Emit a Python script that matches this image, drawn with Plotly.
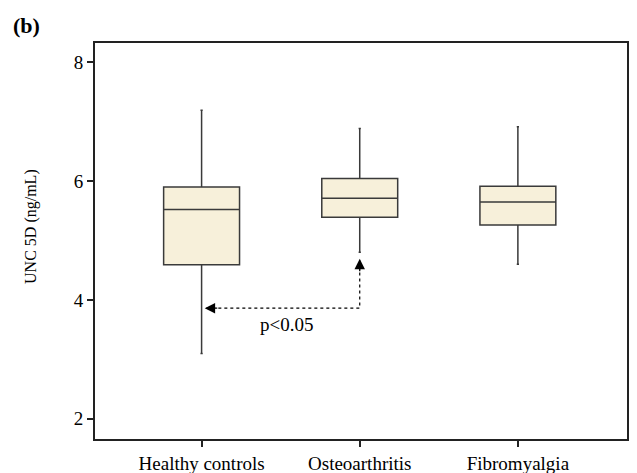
import plotly.graph_objects as go

categories = ["Healthy controls", "Osteoarthritis", "Fibromyalgia"]
cat_pos = [0, 1, 2]
lower_whisker = [3.10, 4.80, 4.60]
q1 = [4.59, 5.39, 5.26]
median = [5.52, 5.71, 5.645]
q3 = [5.90, 6.04, 5.91]
upper_whisker = [7.19, 6.88, 6.91]

y_ticks = [2, 4, 6, 8]
p_label = "p<0.05"
p_line_y = 3.86

FONT = "Liberation Serif"

fig = go.Figure()
fig.add_trace(go.Box(
    x=cat_pos, q1=q1, median=median, q3=q3,
    lowerfence=lower_whisker, upperfence=upper_whisker,
    width=0.48, whiskerwidth=0.03,
    fillcolor="#F7F0DA",
    line=dict(color="#3a3a3a", width=1.5),
    boxpoints=False, showlegend=False, hoverinfo="skip",
))

# dotted L-shaped connector between groups
fig.add_trace(go.Scatter(
    x=[cat_pos[0] + 0.03, cat_pos[1], cat_pos[1]],
    y=[p_line_y, p_line_y, lower_whisker[1] - 0.12],
    mode="lines", line=dict(color="black", width=1.2, dash="dot"),
    showlegend=False, hoverinfo="skip",
))

annotations = [
    dict(x=cat_pos[0] + 0.02, y=p_line_y, xref="x", yref="y", ax=14, ay=0,
         showarrow=True, arrowhead=2, arrowsize=1.6, arrowwidth=1.3,
         arrowcolor="black", text=""),
    dict(x=cat_pos[1], y=lower_whisker[1] - 0.11, xref="x", yref="y", ax=0, ay=14,
         showarrow=True, arrowhead=2, arrowsize=1.6, arrowwidth=1.3,
         arrowcolor="black", text=""),
    dict(x=0.54, y=3.58, xref="x", yref="y", text=p_label, showarrow=False,
         font=dict(family=FONT, size=19, color="black")),
    dict(x=-0.141, y=0.538, xref="paper", yref="paper", text="UNC 5D (ng/mL)",
         textangle=-90, showarrow=False,
         font=dict(family=FONT, size=16, color="black")),
    dict(x=-0.158, y=1.045, xref="paper", yref="paper", text="<b>(b)</b>",
         xanchor="left", yanchor="middle", showarrow=False,
         font=dict(family=FONT, size=22, color="black")),
]

fig.update_layout(
    width=637, height=473,
    margin=dict(l=95, r=10, t=43, b=34),
    paper_bgcolor="white", plot_bgcolor="white",
    font=dict(family=FONT, size=16, color="black"),
    annotations=annotations,
    xaxis=dict(
        range=[-0.674, 2.69], tickvals=cat_pos, ticktext=categories,
        showgrid=False, zeroline=False, automargin=False,
        showline=True, linecolor="#222", linewidth=2, mirror=True,
        ticks="outside", ticklen=6, tickwidth=2, tickcolor="#222",
        tickfont=dict(family=FONT, size=19),
    ),
    yaxis=dict(
        range=[1.66, 8.32], tickvals=y_ticks,
        showgrid=False, zeroline=False, automargin=False,
        showline=True, linecolor="#222", linewidth=2, mirror=True,
        ticks="outside", ticklen=6, tickwidth=2, tickcolor="#222",
        tickfont=dict(family=FONT, size=19),
    ),
)

fig.write_html("out.html")
